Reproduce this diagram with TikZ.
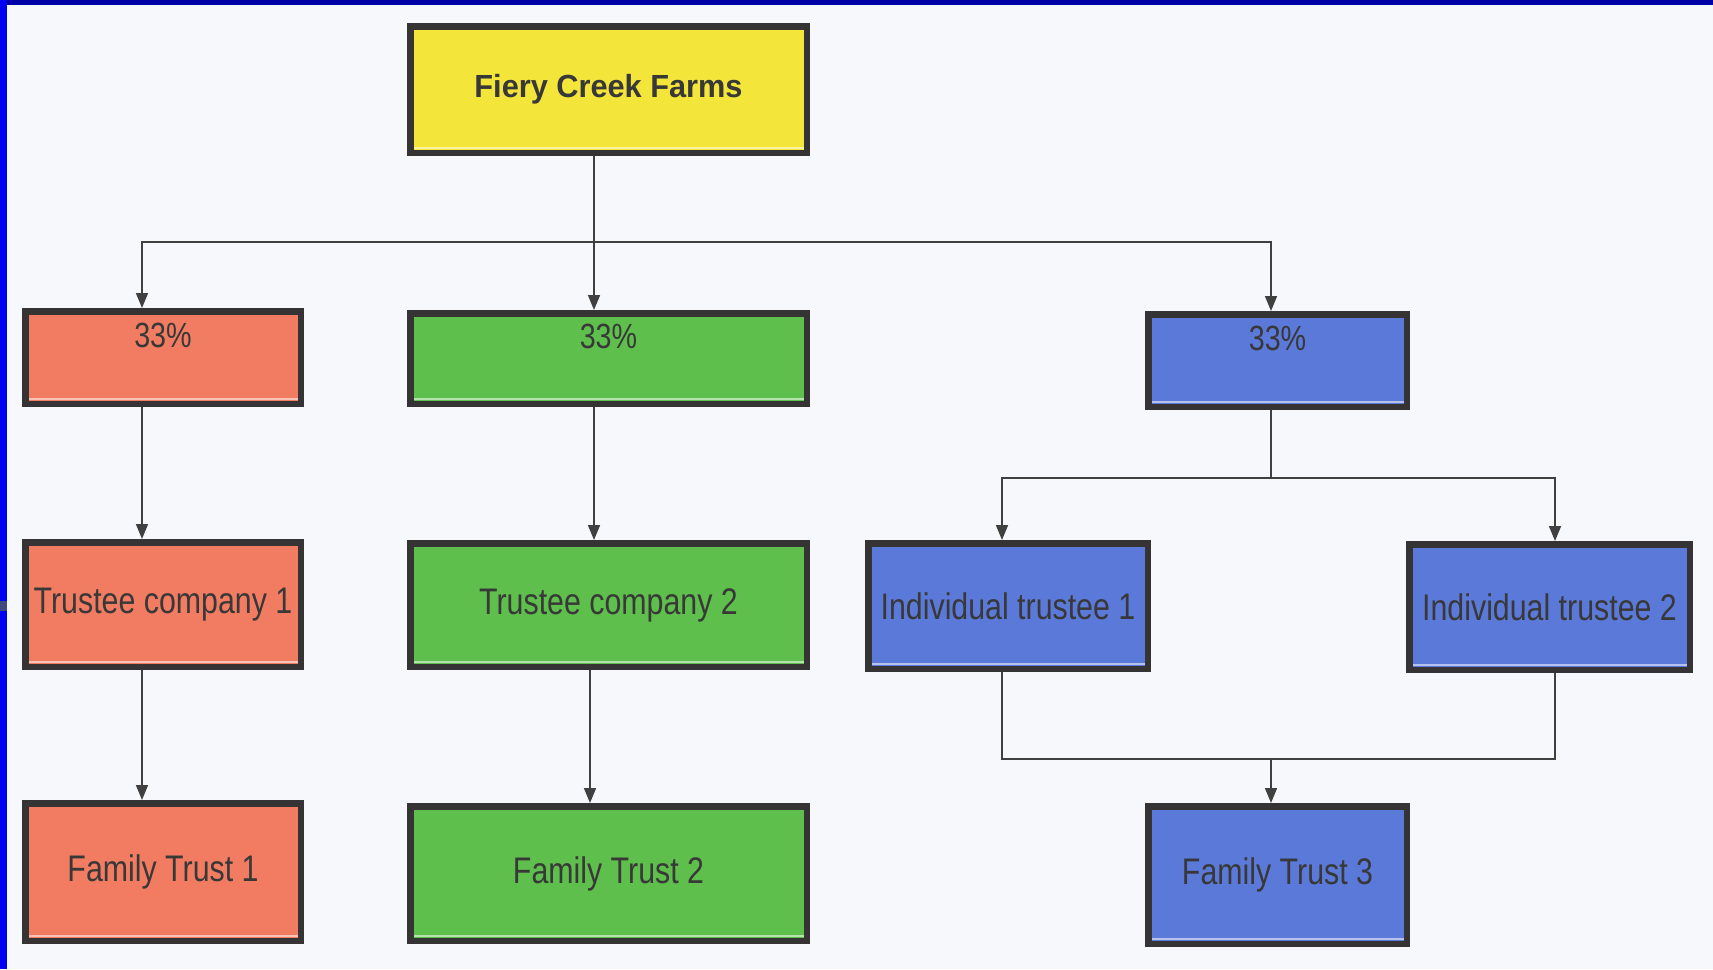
\documentclass[tikz,border=0pt]{standalone}
\usepackage{fontspec}
\setmainfont{Liberation Sans}
\newfontfamily\nA[FakeStretch=0.82]{Liberation Sans}
\newfontfamily\nBold[FakeStretch=0.96]{Liberation Sans}
\usetikzlibrary{arrows.meta}
\definecolor{bgc}{HTML}{F7F8FB}
\definecolor{ylw}{HTML}{F4E53A}
\definecolor{sal}{HTML}{F27C62}
\definecolor{grn}{HTML}{5EBF4C}
\definecolor{blu}{HTML}{5B79D8}
\definecolor{edgec}{HTML}{353333}
\definecolor{txtc}{HTML}{383838}
\definecolor{wirec}{HTML}{404040}
\definecolor{ntop}{HTML}{0000A8}
\definecolor{nleft}{HTML}{0000F0}
\definecolor{tabc}{HTML}{404880}
\tikzset{
  box/.style={draw=edgec, line width=6.5pt, rectangle, inner sep=0pt, text=txtc,
    path picture={\fill[white,opacity=0.55] ([yshift=3.5pt]path picture bounding box.south west) rectangle ([yshift=5.5pt]path picture bounding box.south east);}},
  pct/.style={text height=25pt, text depth=46pt, font=\nA\fontsize{35}{38}\selectfont},
  tA/.style={font=\nA\fontsize{37}{40}\selectfont},
  wire/.style={draw=wirec, line width=1.6pt},
  arr/.style={wire, -{Triangle[width=12pt,length=15pt]}}
}
\begin{document}
\begin{tikzpicture}[x=1pt,y=-1pt]
\useasboundingbox[fill=bgc] (0,0) rectangle (1713,969);
\fill[ntop] (0,0) rectangle (1713,5);
\fill[nleft] (0,0) rectangle (7,969);
\fill[tabc] (0,601) rectangle (7,611);

\node[box, fill=ylw, minimum width=396.5pt, minimum height=126.5pt, font=\nBold\bfseries\fontsize{32}{36}\selectfont] (fcf) at (608.5,89.5) {Fiery Creek Farms};

\node[box, fill=sal, pct, minimum width=275.5pt, minimum height=92.5pt] (p1) at (163,357.5) {33\%};
\node[box, fill=grn, pct, minimum width=396.5pt, minimum height=90.5pt] (p2) at (608.5,358.5) {33\%};
\node[box, fill=blu, pct, minimum width=258.5pt, minimum height=92.5pt] (p3) at (1277.5,360.5) {33\%};

\node[box, fill=sal, tA, minimum width=275.5pt, minimum height=124.5pt] (tc1) at (163,604.5) {Trustee company 1};
\node[box, fill=grn, tA, minimum width=396.5pt, minimum height=123.5pt] (tc2) at (608.5,605) {Trustee company 2};
\node[box, fill=blu, tA, minimum width=279.5pt, minimum height=125.5pt] (it1) at (1008,606) {Individual trustee 1};
\node[box, fill=blu, tA, minimum width=280.5pt, minimum height=125.5pt] (it2) at (1549.5,607) {Individual trustee 2};

\node[box, fill=sal, tA, minimum width=275.5pt, minimum height=137.5pt] (ft1) at (163,872) {Family Trust 1};
\node[box, fill=grn, tA, minimum width=396.5pt, minimum height=134.5pt] (ft2) at (608.5,873.5) {Family Trust 2};
\node[box, fill=blu, tA, minimum width=258.5pt, minimum height=137.5pt] (ft3) at (1277.5,875) {Family Trust 3};

\coordinate (colR) at (142,0);
\coordinate (colG) at (594,0);
\coordinate (colGb) at (590,0);
\coordinate (colB) at (1271,0);
\coordinate (colIa) at (1002,0);
\coordinate (colIb) at (1555,0);
\coordinate (busA) at (0,242);
\coordinate (busB) at (0,478);
\coordinate (busC) at (0,759);

\draw[arr] (fcf.south -| colG) -- (p2.north -| colG);
\draw[arr] (busA -| colG) -| (p1.north -| colR);
\draw[arr] (busA -| colG) -| (p3.north -| colB);
\draw[arr] (p1.south -| colR) -- (tc1.north -| colR);
\draw[arr] (tc1.south -| colR) -- (ft1.north -| colR);
\draw[arr] (p2.south -| colG) -- (tc2.north -| colG);
\draw[arr] (tc2.south -| colGb) -- (ft2.north -| colGb);
\draw[wire] (p3.south -| colB) -- (busB -| colB);
\draw[arr] (busB -| colB) -| (it1.north -| colIa);
\draw[arr] (busB -| colB) -| (it2.north -| colIb);
\draw[wire] (it1.south -| colIa) |- (busC -| colB);
\draw[wire] (it2.south -| colIb) |- (busC -| colB);
\draw[arr] (busC -| colB) -- (ft3.north -| colB);
\end{tikzpicture}
\end{document}
